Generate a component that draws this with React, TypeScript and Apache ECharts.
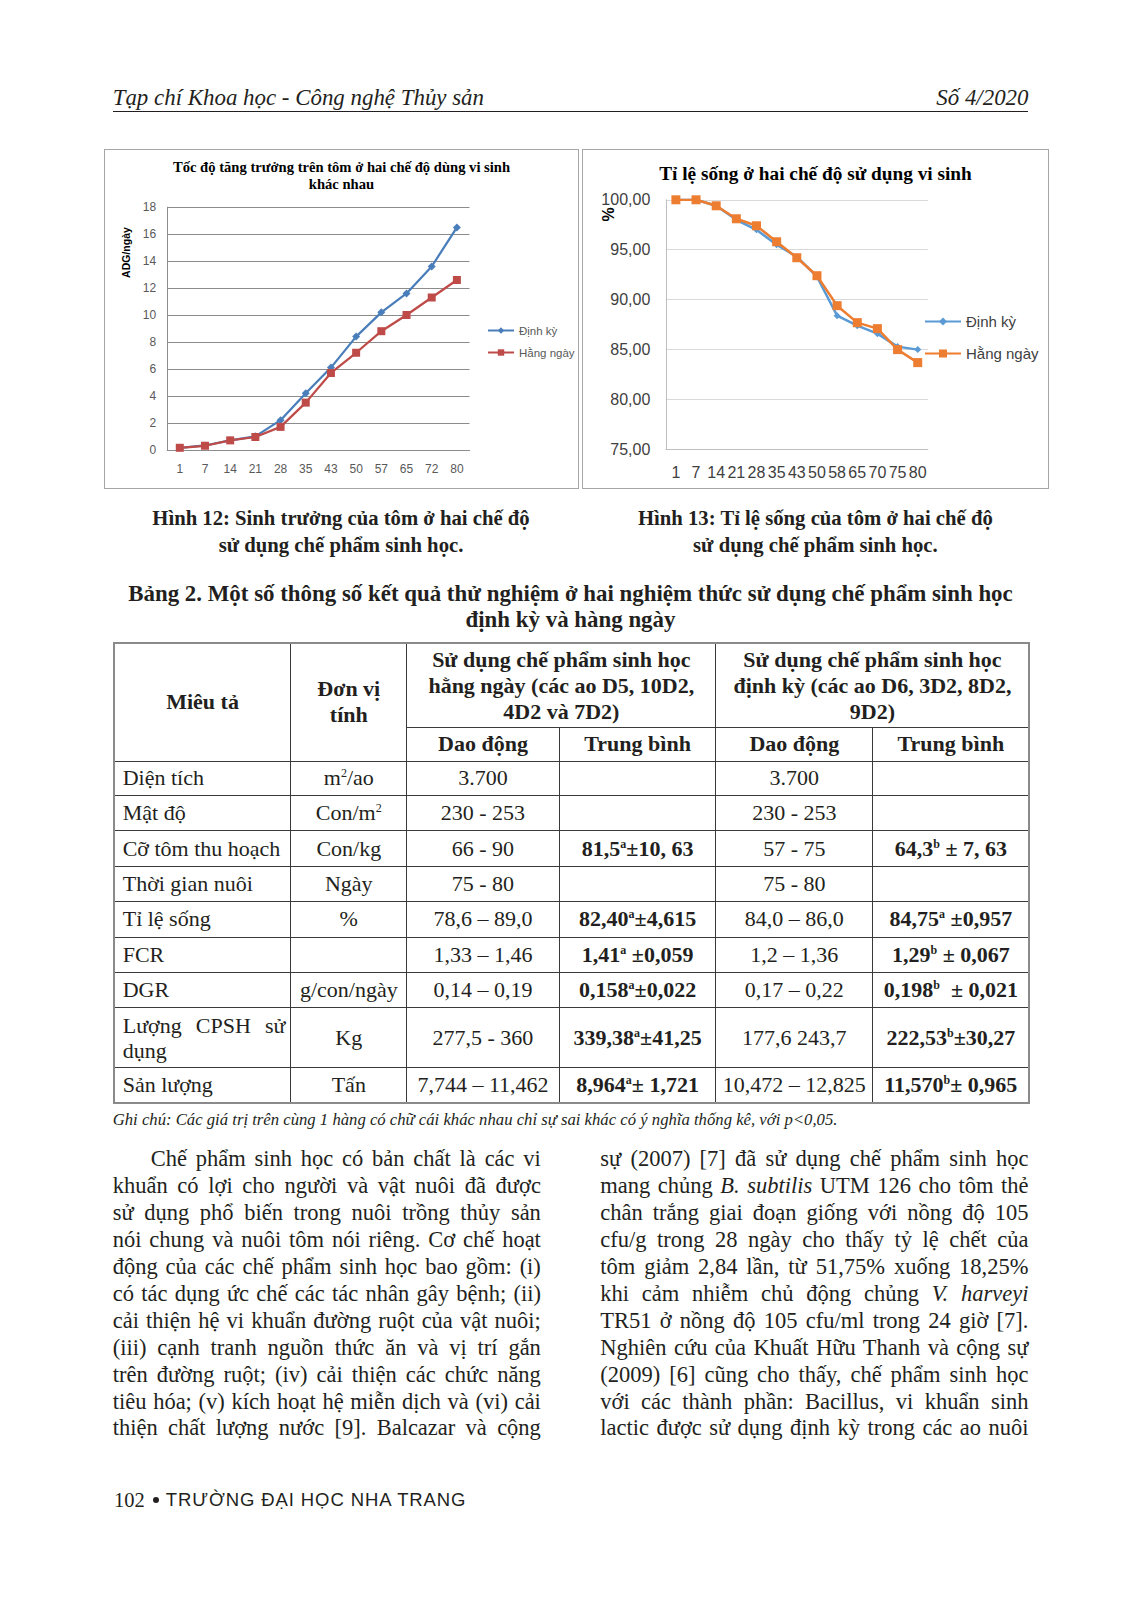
import React, { useEffect, useRef } from 'react';
import * as echarts from 'echarts';

// ---------- data ----------
const seriesNames = ['Định kỳ', 'Hằng ngày'];

const days1 = ['1', '7', '14', '21', '28', '35', '43', '50', '57', '65', '72', '80'];
const adgDinhKy = [0.15, 0.32, 0.7, 1.0, 2.2, 4.2, 6.1, 8.4, 10.2, 11.6, 13.6, 16.5];
const adgHangNgay = [0.15, 0.3, 0.7, 0.95, 1.7, 3.5, 5.7, 7.2, 8.8, 10.0, 11.3, 12.6];

const days2 = ['1', '7', '14', '21', '28', '35', '43', '50', '58', '65', '70', '75', '80'];
const songDinhKy = [100, 100, 99.4, 98.0, 97.0, 95.5, 94.3, 92.3, 88.4, 87.4, 86.6, 85.3, 85.0];
const songHangNgay = [100, 100, 99.4, 98.1, 97.4, 95.8, 94.2, 92.4, 89.4, 87.7, 87.1, 85.0, 83.7];

const rowLabels = ['Diện tích', 'Mật độ', 'Cỡ tôm thu hoạch', 'Thời gian nuôi', 'Tỉ lệ sống', 'FCR', 'DGR', 'Lượng CPSH sử dụng', 'Sản lượng'];
const rowUnits = ['m|2|/ao', 'Con/m|2|', 'Con/kg', 'Ngày', '%', '', 'g/con/ngày', 'Kg', 'Tấn'];
const rangeHangNgay = ['3.700', '230 - 253', '66 - 90', '75 - 80', '78,6 – 89,0', '1,33 – 1,46', '0,14 – 0,19', '277,5 - 360', '7,744 – 11,462'];
const meanHangNgay = ['', '', '81,5|a|±10, 63', '', '82,40|a|±4,615', '1,41|a| ±0,059', '0,158|a|±0,022', '339,38|a|±41,25', '8,964|a|± 1,721'];
const rangeDinhKy = ['3.700', '230 - 253', '57 - 75', '75 - 80', '84,0 – 86,0', '1,2 – 1,36', '0,17 – 0,22', '177,6 243,7', '10,472 – 12,825'];
const meanDinhKy = ['', '', '64,3|b| ± 7, 63', '', '84,75|a| ±0,957', '1,29|b| ± 0,067', '0,198|b| \u00a0± 0,021', '222,53|b|±30,27', '11,570|b|± 0,965'];

const leftLines = [
  'Chế phẩm sinh học có bản chất là các vi',
  'khuẩn có lợi cho người và vật nuôi đã được',
  'sử dụng phổ biến trong nuôi trồng thủy sản',
  'nói chung và nuôi tôm nói riêng. Cơ chế hoạt',
  'động của các chế phẩm sinh học bao gồm: (i)',
  'có tác dụng ức chế các tác nhân gây bệnh; (ii)',
  'cải thiện hệ vi khuẩn đường ruột của vật nuôi;',
  '(iii) cạnh tranh nguồn thức ăn và vị trí gắn',
  'trên đường ruột; (iv) cải thiện các chức năng',
  'tiêu hóa; (v) kích hoạt hệ miễn dịch và (vi) cải',
  'thiện chất lượng nước [9]. Balcazar và cộng',
];
const rightLines = [
  'sự (2007) [7] đã sử dụng chế phẩm sinh học',
  'mang chủng *B. subtilis* UTM 126 cho tôm thẻ',
  'chân trắng giai đoạn giống với nồng độ 105',
  'cfu/g trong 28 ngày cho thấy tỷ lệ chết của',
  'tôm giảm 2,84 lần, từ 51,75% xuống 18,25%',
  'khi cảm nhiễm chủ động chủng *V. harveyi*',
  'TR51 ở nồng độ 105 cfu/ml trong 24 giờ [7].',
  'Nghiên cứu của Khuất Hữu Thanh và cộng sự',
  '(2009) [6] cũng cho thấy, chế phẩm sinh học',
  'với các thành phần: Bacillus, vi khuẩn sinh',
  'lactic được sử dụng định kỳ trong các ao nuôi',
];

// ---------- styles ----------
const SANS = "'Liberation Sans', Arial, sans-serif";
const SERIF = "'Liberation Serif', 'Times New Roman', serif";
const INK = '#231f20';

const option1: any = {
  animation: false,
  grid: { left: 63.2, top: 58.2, width: 302.3, height: 242.6 },
  graphic: [
    { type: 'text', x: 237.5, y: 17.5, style: { text: 'Tốc độ tăng trưởng trên tôm ở hai chế độ dùng vi sinh', font: `bold 14.6px ${SERIF}`, fill: '#000', align: 'center', verticalAlign: 'middle', textAlign: 'center', textVerticalAlign: 'middle' } },
    { type: 'text', x: 237.5, y: 34.5, style: { text: 'khác nhau', font: `bold 14.6px ${SERIF}`, fill: '#000', align: 'center', verticalAlign: 'middle', textAlign: 'center', textVerticalAlign: 'middle' } },
    { type: 'text', x: 21.5, y: 103.5, rotation: Math.PI / 2, style: { text: 'ADG/ngày', font: `bold 10.5px ${SANS}`, fill: '#000', align: 'center', verticalAlign: 'middle', textAlign: 'center', textVerticalAlign: 'middle' } },
  ],
  legend: {
    orient: 'vertical', left: 383, top: 175.5, padding: 0, itemWidth: 26, itemHeight: 8, itemGap: 10,
    textStyle: { fontSize: 11.5, color: '#595959', fontFamily: SANS },
    data: seriesNames,
  },
  xAxis: {
    type: 'category', data: days1, boundaryGap: true,
    axisLine: { lineStyle: { color: '#8c8c8c', width: 1 } },
    axisTick: { show: false },
    axisLabel: { interval: 0, margin: 13, fontSize: 12, color: '#595959', fontFamily: SANS },
  },
  yAxis: {
    type: 'value', min: 0, max: 18, interval: 2,
    axisLine: { show: true, lineStyle: { color: '#8c8c8c', width: 1 } },
    axisTick: { show: false },
    splitLine: { lineStyle: { color: '#8c8c8c', width: 1 } },
    axisLabel: { margin: 11, fontSize: 12, color: '#595959', fontFamily: SANS },
  },
  series: [
    { name: seriesNames[0], type: 'line', data: adgDinhKy, symbol: 'diamond', symbolSize: 8, showAllSymbol: true,
      itemStyle: { color: '#4A7EBB' }, lineStyle: { color: '#4A7EBB', width: 2.25 } },
    { name: seriesNames[1], type: 'line', data: adgHangNgay, symbol: 'rect', symbolSize: 8, showAllSymbol: true,
      itemStyle: { color: '#BE4B48' }, lineStyle: { color: '#BE4B48', width: 2.25 } },
  ],
};

const option2: any = {
  animation: false,
  grid: { left: 83.8, top: 50.8, width: 262, height: 249.7 },
  graphic: [
    { type: 'text', x: 233.5, y: 24.8, style: { text: 'Tỉ lệ sống ở hai chế độ sử dụng vi sinh', font: `bold 19.3px ${SERIF}`, fill: '#000', align: 'center', verticalAlign: 'middle', textAlign: 'center', textVerticalAlign: 'middle' } },
    { type: 'text', x: 26, y: 65.5, rotation: Math.PI / 2, style: { text: '%', font: `bold 16px ${SANS}`, fill: '#000', align: 'center', verticalAlign: 'middle', textAlign: 'center', textVerticalAlign: 'middle' } },
  ],
  legend: {
    orient: 'vertical', left: 342, top: 165, padding: 0, itemWidth: 36, itemHeight: 10, itemGap: 17,
    textStyle: { fontSize: 15, color: '#404040', fontFamily: SANS },
    data: seriesNames,
  },
  xAxis: {
    type: 'category', data: days2, boundaryGap: true,
    axisLine: { lineStyle: { color: '#bfbfbf', width: 1 } },
    axisTick: { show: false },
    axisLabel: { interval: 0, margin: 14.5, fontSize: 16, color: '#404040', fontFamily: SANS },
  },
  yAxis: {
    type: 'value', min: 75, max: 100, interval: 5,
    axisLine: { show: true, lineStyle: { color: '#bfbfbf', width: 1 } },
    axisTick: { show: false },
    splitLine: { lineStyle: { color: '#d9d9d9', width: 1 } },
    axisLabel: { margin: 15.5, fontSize: 16, color: '#404040', fontFamily: SANS,
      formatter: (v: number) => v.toFixed(2).replace('.', ',') },
  },
  series: [
    { name: seriesNames[0], type: 'line', data: songDinhKy, symbol: 'diamond', symbolSize: 7, showAllSymbol: true,
      itemStyle: { color: '#5B9BD5' }, lineStyle: { color: '#5B9BD5', width: 2.5 } },
    { name: seriesNames[1], type: 'line', data: songHangNgay, symbol: 'rect', symbolSize: 9, showAllSymbol: true,
      itemStyle: { color: '#ED7D31' }, lineStyle: { color: '#ED7D31', width: 2.5 } },
  ],
};

function EChart({ option, style }: { option: any; style: React.CSSProperties }) {
  const ref = useRef<HTMLDivElement>(null);
  useEffect(() => {
    const chart = echarts.init(ref.current as HTMLDivElement, null, { renderer: 'svg' });
    chart.setOption(option);
    return () => chart.dispose();
  }, [option]);
  return <div ref={ref} style={style} />;
}

function Sup({ text, bold }: { text: string; bold?: boolean }) {
  if (!text) return null;
  const parts = text.split('|');
  return (
    <span style={{ fontWeight: bold ? 'bold' : 'normal' }}>
      {parts.map((p, i) =>
        i % 2 === 1 ? (
          <sup key={i} style={{ fontSize: '12px', lineHeight: 0, verticalAlign: '8px' }}>{p}</sup>
        ) : (
          <span key={i}>{p}</span>
        )
      )}
    </span>
  );
}

function Italics({ text }: { text: string }) {
  const parts = text.split('*');
  return <>{parts.map((p, i) => (i % 2 === 1 ? <i key={i}>{p}</i> : <span key={i}>{p}</span>))}</>;
}

const colWidths = [177.2, 115.8, 152.6, 156.7, 156.8, 156.7];
const rowHeights = [34.8, 34.9, 35.8, 34.8, 35.9, 34.8, 35.9, 59.4, 35.9];

const cell: React.CSSProperties = {
  border: '1px solid #3a3a3a',
  padding: '0 3px',
  textAlign: 'center',
  verticalAlign: 'middle',
  lineHeight: '26px',
  whiteSpace: 'nowrap',
  overflow: 'visible',
};

function DataTable() {
  return (
    <table
      style={{
        position: 'absolute', left: 112.7, top: 642.3, width: 915.8,
        borderCollapse: 'collapse', tableLayout: 'fixed',
        fontFamily: SERIF, fontSize: 22, color: INK,
        border: '2px solid #8a8a8a',
      }}
    >
      <colgroup>
        {colWidths.map((w, i) => <col key={i} style={{ width: w }} />)}
      </colgroup>
      <tbody>
        <tr style={{ height: 84 }}>
          <td rowSpan={2} style={{ ...cell, fontWeight: 'bold' }}>Miêu tả</td>
          <td rowSpan={2} style={{ ...cell, fontWeight: 'bold' }}>Đơn vị<br />tính</td>
          <td colSpan={2} style={{ ...cell, fontWeight: 'bold' }}>Sử dụng chế phẩm sinh học<br />hằng ngày (các ao D5, 10D2,<br />4D2 và 7D2)</td>
          <td colSpan={2} style={{ ...cell, fontWeight: 'bold' }}>Sử dụng chế phẩm sinh học<br />định kỳ (các ao D6, 3D2, 8D2,<br />9D2)</td>
        </tr>
        <tr style={{ height: 33.8 }}>
          <td style={{ ...cell, fontWeight: 'bold' }}>Dao động</td>
          <td style={{ ...cell, fontWeight: 'bold' }}>Trung bình</td>
          <td style={{ ...cell, fontWeight: 'bold' }}>Dao động</td>
          <td style={{ ...cell, fontWeight: 'bold' }}>Trung bình</td>
        </tr>
        {rowLabels.map((label, r) => (
          <tr key={r} style={{ height: rowHeights[r] }}>
            <td style={{ ...cell, textAlign: 'left', paddingLeft: 8 }}>
              {r === 7 ? (
                <div style={{ lineHeight: '25px', whiteSpace: 'normal' }}>
                  <div style={{ textAlign: 'justify', textAlignLast: 'justify', paddingRight: 2 }}>Lượng CPSH sử</div>
                  <div>dụng</div>
                </div>
              ) : label}
            </td>
            <td style={cell}><Sup text={rowUnits[r]} /></td>
            <td style={cell}>{rangeHangNgay[r]}</td>
            <td style={cell}><Sup text={meanHangNgay[r]} bold /></td>
            <td style={cell}>{rangeDinhKy[r]}</td>
            <td style={cell}><Sup text={meanDinhKy[r]} bold /></td>
          </tr>
        ))}
      </tbody>
    </table>
  );
}

function Column({ lines, left, indentFirst }: { lines: string[]; left: number; indentFirst?: boolean }) {
  return (
    <div
      style={{
        position: 'absolute', left, top: 1146.1, width: 428.2,
        fontFamily: SERIF, fontSize: 22.5, lineHeight: '26.94px', color: INK,
      }}
    >
      {lines.map((ln, i) => (
        <div key={i} style={{ textAlign: 'justify', textAlignLast: 'justify', paddingLeft: indentFirst && i === 0 ? 38 : 0 }}>
          <Italics text={ln} />
        </div>
      ))}
    </div>
  );
}

export default function App() {
  return (
    <div style={{ position: 'absolute', left: 0, top: 0, width: 1133, height: 1606, background: '#fff', color: INK, fontFamily: SERIF, overflow: 'hidden' }}>
      {/* running header */}
      <div style={{ position: 'absolute', left: 112.7, top: 85.3, width: 915.8, height: 26, display: 'flex', justifyContent: 'space-between', fontStyle: 'italic', fontSize: 22.9, lineHeight: '26px' }}>
        <span>Tạp chí Khoa học - Công nghệ Thủy sản</span>
        <span>Số 4/2020</span>
      </div>
      <div style={{ position: 'absolute', left: 112.7, top: 110.9, width: 915.8, height: 1.6, background: INK }} />

      {/* charts */}
      <EChart option={option1} style={{ position: 'absolute', left: 103.5, top: 148.5, width: 475, height: 340 }} />
      <div style={{ position: 'absolute', left: 103.5, top: 148.5, width: 475, height: 340, boxSizing: 'border-box', border: '1.5px solid #a6a6a6', pointerEvents: 'none' }} />
      <EChart option={option2} style={{ position: 'absolute', left: 581.9, top: 148.5, width: 467, height: 340 }} />
      <div style={{ position: 'absolute', left: 581.9, top: 148.5, width: 467, height: 340, boxSizing: 'border-box', border: '1.5px solid #a6a6a6', pointerEvents: 'none' }} />

      {/* captions */}
      <div style={{ position: 'absolute', left: 103.5, top: 505, width: 475, textAlign: 'center', fontWeight: 'bold', fontSize: 20.7, lineHeight: '26.7px' }}>
        Hình 12: Sinh trưởng của tôm ở hai chế độ<br />sử dụng chế phẩm sinh học.
      </div>
      <div style={{ position: 'absolute', left: 581.9, top: 505, width: 467, textAlign: 'center', fontWeight: 'bold', fontSize: 20.7, lineHeight: '26.7px' }}>
        Hình 13: Tỉ lệ sống của tôm ở hai chế độ<br />sử dụng chế phẩm sinh học.
      </div>

      {/* table title */}
      <div style={{ position: 'absolute', left: 100, top: 580.6, width: 941, textAlign: 'center', fontWeight: 'bold', fontSize: 22.9, lineHeight: '26.8px', whiteSpace: 'nowrap' }}>
        Bảng 2. Một số thông số kết quả thử nghiệm ở hai nghiệm thức sử dụng chế phẩm sinh học<br />định kỳ và hàng ngày
      </div>

      <DataTable />

      <div style={{ position: 'absolute', left: 112.7, top: 1109.7, fontStyle: 'italic', fontSize: 16.7, lineHeight: '20px', whiteSpace: 'nowrap' }}>
        Ghi chú: Các giá trị trên cùng 1 hàng có chữ cái khác nhau chỉ sự sai khác có ý nghĩa thống kê, với p&lt;0,05.
      </div>

      <Column lines={leftLines} left={112.7} indentFirst />
      <Column lines={rightLines} left={600.3} />

      {/* footer */}
      <div style={{ position: 'absolute', left: 114, top: 1487, height: 26, lineHeight: '26px', whiteSpace: 'nowrap', display: 'flex', alignItems: 'center' }}>
        <span style={{ fontFamily: SERIF, fontSize: 20.5 }}>102</span>
        <span style={{ display: 'inline-block', width: 6, height: 6, borderRadius: 3, background: INK, margin: '0 7px 0 8px' }} />
        <span style={{ fontFamily: SANS, fontSize: 18.5, letterSpacing: '0.9px' }}>TRƯỜNG ĐẠI HỌC NHA TRANG</span>
      </div>
    </div>
  );
}
